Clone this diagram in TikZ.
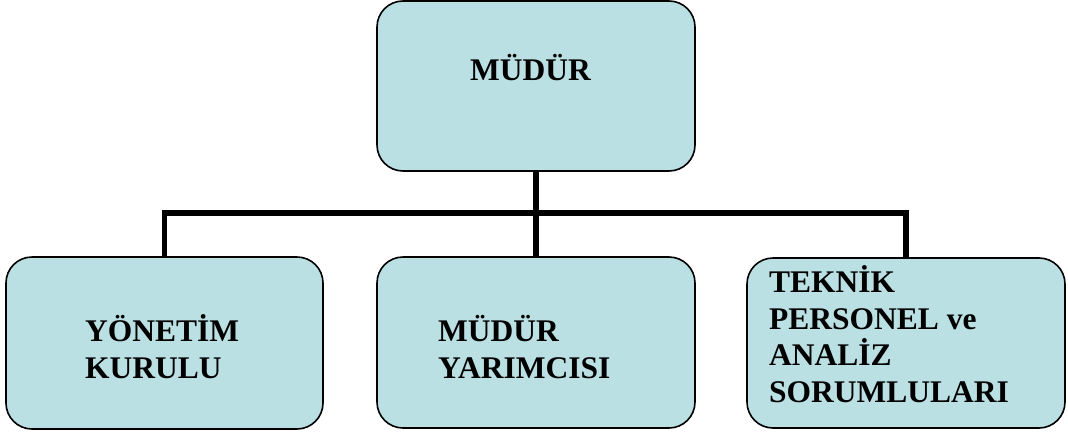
\documentclass[tikz,border=0pt]{standalone}
\usepackage{fontspec}
\setmainfont{Liberation Serif}
\definecolor{boxfill}{RGB}{187,224,227}
\tikzset{
  orgbox/.style={draw=black, line width=1.6pt, fill=boxfill, rounded corners=26pt, inner sep=0pt},
  conn/.style={draw=black, line width=5.5pt},
  lbl/.style={anchor=base west, inner sep=0pt, align=left, font=\bfseries\fontsize{31.5}{36.5}\selectfont}
}
\begin{document}
\begin{tikzpicture}[x=1pt,y=-1pt]
\useasboundingbox (0,0) rectangle (1068,434);
\node[orgbox, minimum width=318pt, minimum height=170pt] (top) at (536,86) {};
\node[orgbox, minimum width=317pt, minimum height=172pt] (left) at (164.5,343) {};
\node[orgbox, minimum width=318pt, minimum height=171pt] (mid) at (536,342.5) {};
\node[orgbox, minimum width=318pt, minimum height=170pt] (right) at (906,343) {};
\coordinate (bus) at (536,213);
\draw[conn] (top.south) -- (mid.north);
\draw[conn] (left.north) |- (bus) -| (right.north);
\node[lbl] (t1) at (470,80) {MÜDÜR};
\node[lbl] (t2) at (85,378) {YÖNETİM\\KURULU};
\node[lbl] (t3) at (438,378) {MÜDÜR\\YARIMCISI};
\node[lbl] (t4) at (769,402) {TEKNİK\\PERSONEL ve\\ANALİZ\\SORUMLULARI};
\end{tikzpicture}
\end{document}
